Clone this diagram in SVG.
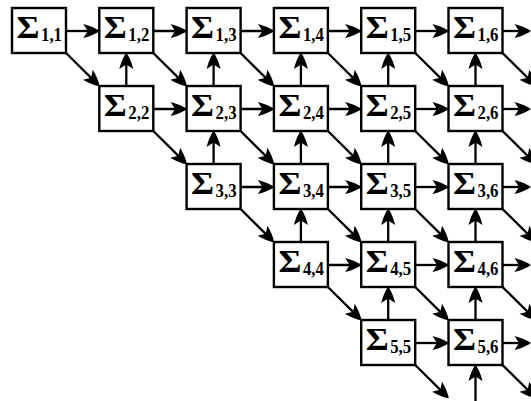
<svg xmlns="http://www.w3.org/2000/svg" width="531" height="401" viewBox="0 0 531 401">
<defs>
<marker id="ah" markerUnits="userSpaceOnUse" markerWidth="20" markerHeight="16" viewBox="-17 -8 20 16" refX="-1.5" refY="0" orient="auto" overflow="visible">
<path d="M0.5,0 Q-6,-4.5 -16,-7 L-11.5,0 L-16,7 Q-6,4.5 0.5,0 Z" fill="#000"/>
</marker>
<style>
.box{fill:#fff;stroke:#000;stroke-width:2.4}
.sg{font-family:"Liberation Serif","DejaVu Serif",serif;font-weight:bold;font-size:31px;fill:#000}
.sb{font-family:"Liberation Serif","DejaVu Serif",serif;font-weight:bold;font-size:19px;fill:#000}
#edges line{stroke:#000;stroke-width:2.3;marker-end:url(#ah)}
</style>
</defs>
<rect width="531" height="401" fill="#fff"/>
<g id="edges">
<line x1="66" y1="31" x2="97.8" y2="31"/>
<line x1="153.3" y1="31" x2="185.1" y2="31"/>
<line x1="240.6" y1="31" x2="272.4" y2="31"/>
<line x1="327.9" y1="31" x2="359.7" y2="31"/>
<line x1="415.2" y1="31" x2="447" y2="31"/>
<line x1="502.5" y1="31" x2="529" y2="31"/>
<line x1="153.3" y1="109" x2="185.1" y2="109"/>
<line x1="240.6" y1="109" x2="272.4" y2="109"/>
<line x1="327.9" y1="109" x2="359.7" y2="109"/>
<line x1="415.2" y1="109" x2="447" y2="109"/>
<line x1="502.5" y1="109" x2="529" y2="109"/>
<line x1="240.6" y1="187" x2="272.4" y2="187"/>
<line x1="327.9" y1="187" x2="359.7" y2="187"/>
<line x1="415.2" y1="187" x2="447" y2="187"/>
<line x1="502.5" y1="187" x2="529" y2="187"/>
<line x1="327.9" y1="265" x2="359.7" y2="265"/>
<line x1="415.2" y1="265" x2="447" y2="265"/>
<line x1="502.5" y1="265" x2="529" y2="265"/>
<line x1="415.2" y1="343" x2="447" y2="343"/>
<line x1="502.5" y1="343" x2="529" y2="343"/>
<line x1="126.3" y1="86" x2="126.3" y2="54.5"/>
<line x1="213.6" y1="86" x2="213.6" y2="54.5"/>
<line x1="213.6" y1="164" x2="213.6" y2="132.5"/>
<line x1="300.9" y1="86" x2="300.9" y2="54.5"/>
<line x1="300.9" y1="164" x2="300.9" y2="132.5"/>
<line x1="300.9" y1="242" x2="300.9" y2="210.5"/>
<line x1="388.2" y1="86" x2="388.2" y2="54.5"/>
<line x1="388.2" y1="164" x2="388.2" y2="132.5"/>
<line x1="388.2" y1="242" x2="388.2" y2="210.5"/>
<line x1="388.2" y1="320" x2="388.2" y2="288.5"/>
<line x1="475.5" y1="86" x2="475.5" y2="54.5"/>
<line x1="475.5" y1="164" x2="475.5" y2="132.5"/>
<line x1="475.5" y1="242" x2="475.5" y2="210.5"/>
<line x1="475.5" y1="320" x2="475.5" y2="288.5"/>
<line x1="475.5" y1="401" x2="475.5" y2="366.5"/>
<line x1="66" y1="53" x2="98.2" y2="84.9"/>
<line x1="153.3" y1="53" x2="185.5" y2="84.9"/>
<line x1="240.6" y1="53" x2="272.8" y2="84.9"/>
<line x1="327.9" y1="53" x2="360.1" y2="84.9"/>
<line x1="415.2" y1="53" x2="447.4" y2="84.9"/>
<line x1="502.5" y1="53" x2="534.7" y2="84.9"/>
<line x1="153.3" y1="131" x2="185.5" y2="162.9"/>
<line x1="240.6" y1="131" x2="272.8" y2="162.9"/>
<line x1="327.9" y1="131" x2="360.1" y2="162.9"/>
<line x1="415.2" y1="131" x2="447.4" y2="162.9"/>
<line x1="502.5" y1="131" x2="534.7" y2="162.9"/>
<line x1="240.6" y1="209" x2="272.8" y2="240.9"/>
<line x1="327.9" y1="209" x2="360.1" y2="240.9"/>
<line x1="415.2" y1="209" x2="447.4" y2="240.9"/>
<line x1="502.5" y1="209" x2="534.7" y2="240.9"/>
<line x1="327.9" y1="287" x2="360.1" y2="318.9"/>
<line x1="415.2" y1="287" x2="447.4" y2="318.9"/>
<line x1="502.5" y1="287" x2="534.7" y2="318.9"/>
<line x1="415.2" y1="365" x2="447.4" y2="396.9"/>
<line x1="502.5" y1="365" x2="534.7" y2="396.9"/>
</g>
<g id="n11"><rect class="box" x="12" y="8" width="54" height="45"/><text class="sg" x="16.5" y="38" textLength="23" lengthAdjust="spacingAndGlyphs">Σ</text><text class="sb" x="41" y="41" textLength="21" lengthAdjust="spacingAndGlyphs">1,1</text></g>
<g id="n12"><rect class="box" x="99.3" y="8" width="54" height="45"/><text class="sg" x="103.8" y="38" textLength="23" lengthAdjust="spacingAndGlyphs">Σ</text><text class="sb" x="128.3" y="41" textLength="21" lengthAdjust="spacingAndGlyphs">1,2</text></g>
<g id="n13"><rect class="box" x="186.6" y="8" width="54" height="45"/><text class="sg" x="191.1" y="38" textLength="23" lengthAdjust="spacingAndGlyphs">Σ</text><text class="sb" x="215.6" y="41" textLength="21" lengthAdjust="spacingAndGlyphs">1,3</text></g>
<g id="n14"><rect class="box" x="273.9" y="8" width="54" height="45"/><text class="sg" x="278.4" y="38" textLength="23" lengthAdjust="spacingAndGlyphs">Σ</text><text class="sb" x="302.9" y="41" textLength="21" lengthAdjust="spacingAndGlyphs">1,4</text></g>
<g id="n15"><rect class="box" x="361.2" y="8" width="54" height="45"/><text class="sg" x="365.7" y="38" textLength="23" lengthAdjust="spacingAndGlyphs">Σ</text><text class="sb" x="390.2" y="41" textLength="21" lengthAdjust="spacingAndGlyphs">1,5</text></g>
<g id="n16"><rect class="box" x="448.5" y="8" width="54" height="45"/><text class="sg" x="453" y="38" textLength="23" lengthAdjust="spacingAndGlyphs">Σ</text><text class="sb" x="477.5" y="41" textLength="21" lengthAdjust="spacingAndGlyphs">1,6</text></g>
<g id="n22"><rect class="box" x="99.3" y="86" width="54" height="45"/><text class="sg" x="103.8" y="116" textLength="23" lengthAdjust="spacingAndGlyphs">Σ</text><text class="sb" x="128.3" y="119" textLength="21" lengthAdjust="spacingAndGlyphs">2,2</text></g>
<g id="n23"><rect class="box" x="186.6" y="86" width="54" height="45"/><text class="sg" x="191.1" y="116" textLength="23" lengthAdjust="spacingAndGlyphs">Σ</text><text class="sb" x="215.6" y="119" textLength="21" lengthAdjust="spacingAndGlyphs">2,3</text></g>
<g id="n24"><rect class="box" x="273.9" y="86" width="54" height="45"/><text class="sg" x="278.4" y="116" textLength="23" lengthAdjust="spacingAndGlyphs">Σ</text><text class="sb" x="302.9" y="119" textLength="21" lengthAdjust="spacingAndGlyphs">2,4</text></g>
<g id="n25"><rect class="box" x="361.2" y="86" width="54" height="45"/><text class="sg" x="365.7" y="116" textLength="23" lengthAdjust="spacingAndGlyphs">Σ</text><text class="sb" x="390.2" y="119" textLength="21" lengthAdjust="spacingAndGlyphs">2,5</text></g>
<g id="n26"><rect class="box" x="448.5" y="86" width="54" height="45"/><text class="sg" x="453" y="116" textLength="23" lengthAdjust="spacingAndGlyphs">Σ</text><text class="sb" x="477.5" y="119" textLength="21" lengthAdjust="spacingAndGlyphs">2,6</text></g>
<g id="n33"><rect class="box" x="186.6" y="164" width="54" height="45"/><text class="sg" x="191.1" y="194" textLength="23" lengthAdjust="spacingAndGlyphs">Σ</text><text class="sb" x="215.6" y="197" textLength="21" lengthAdjust="spacingAndGlyphs">3,3</text></g>
<g id="n34"><rect class="box" x="273.9" y="164" width="54" height="45"/><text class="sg" x="278.4" y="194" textLength="23" lengthAdjust="spacingAndGlyphs">Σ</text><text class="sb" x="302.9" y="197" textLength="21" lengthAdjust="spacingAndGlyphs">3,4</text></g>
<g id="n35"><rect class="box" x="361.2" y="164" width="54" height="45"/><text class="sg" x="365.7" y="194" textLength="23" lengthAdjust="spacingAndGlyphs">Σ</text><text class="sb" x="390.2" y="197" textLength="21" lengthAdjust="spacingAndGlyphs">3,5</text></g>
<g id="n36"><rect class="box" x="448.5" y="164" width="54" height="45"/><text class="sg" x="453" y="194" textLength="23" lengthAdjust="spacingAndGlyphs">Σ</text><text class="sb" x="477.5" y="197" textLength="21" lengthAdjust="spacingAndGlyphs">3,6</text></g>
<g id="n44"><rect class="box" x="273.9" y="242" width="54" height="45"/><text class="sg" x="278.4" y="272" textLength="23" lengthAdjust="spacingAndGlyphs">Σ</text><text class="sb" x="302.9" y="275" textLength="21" lengthAdjust="spacingAndGlyphs">4,4</text></g>
<g id="n45"><rect class="box" x="361.2" y="242" width="54" height="45"/><text class="sg" x="365.7" y="272" textLength="23" lengthAdjust="spacingAndGlyphs">Σ</text><text class="sb" x="390.2" y="275" textLength="21" lengthAdjust="spacingAndGlyphs">4,5</text></g>
<g id="n46"><rect class="box" x="448.5" y="242" width="54" height="45"/><text class="sg" x="453" y="272" textLength="23" lengthAdjust="spacingAndGlyphs">Σ</text><text class="sb" x="477.5" y="275" textLength="21" lengthAdjust="spacingAndGlyphs">4,6</text></g>
<g id="n55"><rect class="box" x="361.2" y="320" width="54" height="45"/><text class="sg" x="365.7" y="350" textLength="23" lengthAdjust="spacingAndGlyphs">Σ</text><text class="sb" x="390.2" y="353" textLength="21" lengthAdjust="spacingAndGlyphs">5,5</text></g>
<g id="n56"><rect class="box" x="448.5" y="320" width="54" height="45"/><text class="sg" x="453" y="350" textLength="23" lengthAdjust="spacingAndGlyphs">Σ</text><text class="sb" x="477.5" y="353" textLength="21" lengthAdjust="spacingAndGlyphs">5,6</text></g>
</svg>
